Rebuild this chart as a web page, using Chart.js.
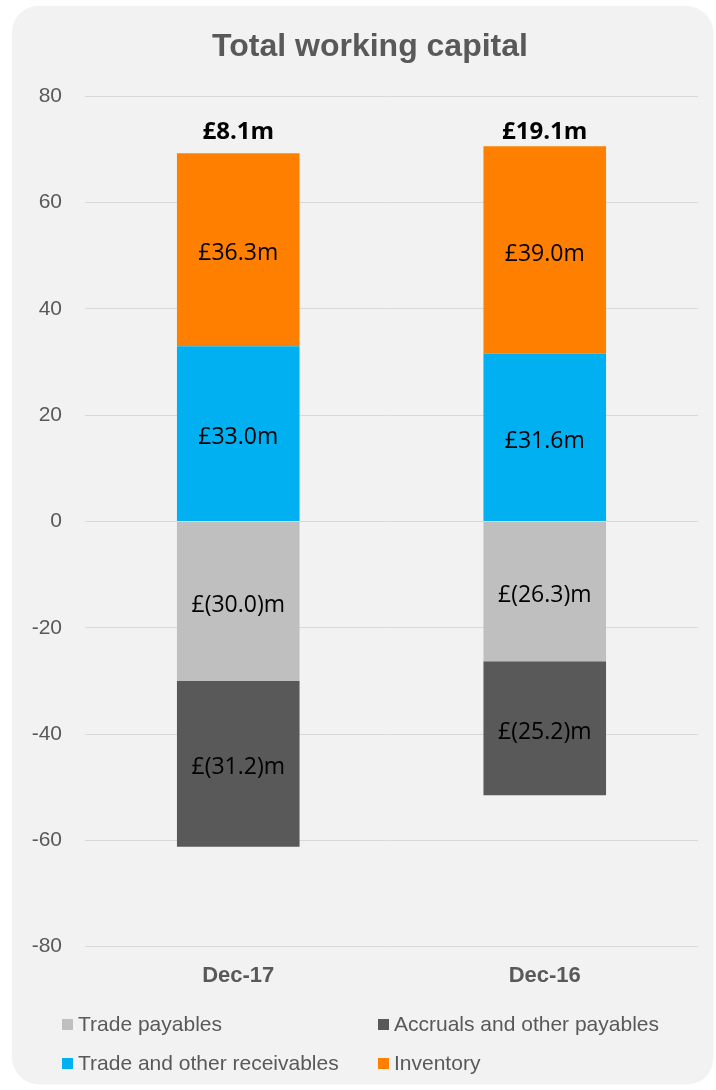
<!DOCTYPE html>
<html>
<head>
<meta charset="utf-8">
<title>Total working capital</title>
<script src="https://cdn.jsdelivr.net/npm/chart.js@4.4.1/dist/chart.umd.min.js"></script>
<style>
  html, body { margin: 0; padding: 0; background: #fff; overflow: hidden; }
  body { width: 716px; height: 1090px; position: relative; font-family: "Liberation Sans", Arial, sans-serif; }
  .card {
    position: absolute; left: 12px; top: 6px; width: 700px; height: 1077px;
    background: #f2f2f2; border-radius: 26px;
    box-shadow: 1px 1px 2px rgba(0, 0, 0, 0.08);
  }
  .chart-box { position: absolute; left: 0; top: 0; width: 740px; height: 1005px; }
  .legend { position: absolute; left: 0; top: 0; width: 716px; height: 1090px; pointer-events: none; }
  .legend .item {
    position: absolute; display: flex; align-items: center;
    font-size: 21px; color: #595959; white-space: nowrap; height: 26px;
  }
  .legend .sw { width: 11px; height: 11px; margin-right: 5px; }
</style>
</head>
<body>
<div class="card"></div>
<div class="chart-box"><canvas id="chartWC"></canvas></div>
<div class="legend" id="legendWC"></div>

<script>
/* =============================================
   DATA
   ============================================= */
const periods = ['Dec-17', 'Dec-16'];

const tradePayables = [-30.0, -26.3];
const accruals = [-31.2, -25.2];
const receivables = [33.0, 31.6];
const inventory = [36.3, 39.0];

const seriesNames = ['Trade payables', 'Accruals and other payables', 'Trade and other receivables', 'Inventory'];
const seriesColors = ['#bfbfbf', '#595959', '#00b0f0', '#ff8000'];

const yTicks = { min: -80, max: 80, step: 20 };
const TOTAL_LABEL_AT = 74;   // value on the y axis where the totals sit

/* £36.3m / £(30.0)m */
function fmtM(v) {
  return v < 0 ? `£(${Math.abs(v).toFixed(1)})m` : `£${v.toFixed(1)}m`;
}

/* =============================================
   LABEL PLUGIN
   ============================================= */
const barLabels = {
  id: 'barLabels',
  afterDatasetsDraw(chart) {
    const ctx = chart.ctx;
    const nudge = 4;  // source text sits a little below centre
    ctx.save();
    ctx.textAlign = 'center';
    ctx.textBaseline = 'middle';
    ctx.fillStyle = '#000';
    ctx.font = '23px "Open Sans"';
    chart.data.datasets.forEach((ds, i) => {
      chart.getDatasetMeta(i).data.forEach((bar, j) => {
        const p = bar.getProps(['x', 'y', 'base'], true);
        ctx.fillText(fmtM(ds.data[j]), p.x, (p.y + p.base) / 2 + nudge);
      });
    });

    // net totals above each column
    ctx.font = 'bold 24px "Open Sans"';
    const yPix = chart.scales.y.getPixelForValue(TOTAL_LABEL_AT) + nudge;
    periods.forEach((_, j) => {
      const total = chart.data.datasets.reduce((s, ds) => s + ds.data[j], 0);
      ctx.fillText(fmtM(Math.round(total * 10) / 10), chart.scales.x.getPixelForValue(j), yPix);
    });
    ctx.restore();
  }
};

/* =============================================
   CHART
   ============================================= */
const seriesData = [tradePayables, accruals, receivables, inventory];

const chart = new Chart(document.getElementById('chartWC'), {
  type: 'bar',
  data: {
    labels: periods,
    datasets: seriesData.map((d, i) => ({
      label: seriesNames[i],
      data: d,
      backgroundColor: seriesColors[i],
      borderWidth: 0,
      categoryPercentage: 1,
      barPercentage: 0.4
    }))
  },
  options: {
    responsive: true,
    maintainAspectRatio: false,
    animation: false,
    layout: { padding: 0 },
    plugins: {
      legend: { display: false },
      tooltip: { enabled: false },
      title: {
        display: true,
        text: 'Total working capital',
        color: '#595959',
        font: { family: '"Liberation Sans", Arial, sans-serif', size: 32, weight: 'bold', lineHeight: 1.2 },
        padding: { top: 28, bottom: 30 }
      }
    },
    scales: {
      x: {
        stacked: true,
        grid: { display: false, drawTicks: false },
        border: { display: false },
        ticks: {
          color: '#595959',
          padding: 16,
          font: { family: '"Liberation Sans", Arial, sans-serif', size: 22, weight: 'bold' }
        }
      },
      y: {
        stacked: true,
        min: yTicks.min,
        max: yTicks.max,
        grid: { color: '#d9d9d9', lineWidth: 1, drawTicks: false },
        border: { display: false },
        ticks: {
          stepSize: yTicks.step,
          color: '#595959',
          padding: 23,
          font: { family: '"Liberation Sans", Arial, sans-serif', size: 21 }
        },
        afterFit(scale) { scale.width = 85; }
      },
      // empty right-hand margin so the title centres like the source
      yRight: {
        position: 'right',
        grid: { display: false, drawTicks: false },
        border: { display: false },
        ticks: { display: false },
        afterFit(scale) { scale.width = 42; }
      }
    }
  },
  plugins: [barLabels]
});

/* =============================================
   LEGEND (two columns, as in the source)
   ============================================= */
const legendSlots = [[62, 1011], [378, 1011], [62, 1050], [378, 1050]];
document.getElementById('legendWC').innerHTML = chart.data.datasets.map((ds, i) => `
  <div class="item" style="left:${legendSlots[i][0]}px;top:${legendSlots[i][1]}px">
    <span class="sw" style="background:${ds.backgroundColor}"></span>${ds.label}
  </div>`).join('');
</script>
</body>
</html>
